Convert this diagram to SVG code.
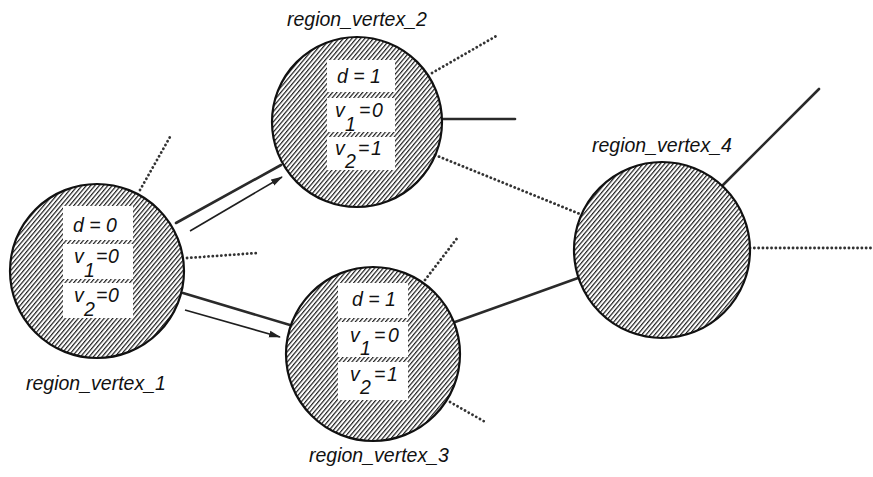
<svg xmlns="http://www.w3.org/2000/svg" width="873" height="477" viewBox="0 0 873 477">
  <defs>
    <pattern id="hatch" width="3.3" height="10" patternUnits="userSpaceOnUse" patternTransform="rotate(40)">
      <rect x="0" y="0" width="1.2" height="10" fill="#1e1e1e"/>
    </pattern>
    <marker id="arrow" markerWidth="12" markerHeight="8" refX="11" refY="4" orient="auto" markerUnits="userSpaceOnUse">
      <path d="M0,0.5 L12,4 L0,7.5 Z" fill="#222"/>
    </marker>
  </defs>
  <style>
    .region { fill: url(#hatch); stroke: #111; stroke-width: 2.2; }
    .cell { fill: #fff; }
    .solid { stroke: #2a2a2a; stroke-width: 2.6; fill: none; stroke-linecap: round; }
    .dotted { stroke: #333; stroke-width: 2.8; fill: none; stroke-dasharray: 0.1 4.2; stroke-linecap: round; }
    .flow { stroke: #1e1e1e; stroke-width: 1.6; fill: none; marker-end: url(#arrow); }
    .lbl { font-family: "Liberation Sans", Arial, sans-serif; font-style: italic; font-size: 19.5px; fill: #111; }
    .val { font-family: "Liberation Sans", Arial, sans-serif; font-style: italic; font-size: 19.5px; fill: #111; }
  </style>

  <!-- connectors -->
  <g id="connectors">
    <line class="solid" x1="176" y1="223" x2="281" y2="165"/>
    <line class="solid" x1="183" y1="293" x2="290" y2="325"/>
    <line class="solid" x1="443" y1="119" x2="515" y2="119"/>
    <line class="solid" x1="455" y1="322" x2="578" y2="278"/>
    <line class="solid" x1="723" y1="185" x2="819" y2="89"/>

    <line class="dotted" x1="140" y1="190" x2="170" y2="137"/>
    <line class="dotted" x1="187" y1="258" x2="257" y2="253"/>
    <line class="dotted" x1="432" y1="73" x2="498" y2="35"/>
    <line class="dotted" x1="435" y1="155" x2="580" y2="214"/>
    <line class="dotted" x1="425" y1="280" x2="458" y2="237"/>
    <line class="dotted" x1="450" y1="402" x2="487" y2="423"/>
    <line class="dotted" x1="750" y1="248" x2="872" y2="248"/>

    <line class="flow" x1="190" y1="231" x2="282" y2="177"/>
    <line class="flow" x1="185" y1="310" x2="280" y2="337"/>
  </g>

  <!-- region vertex 1 -->
  <g id="region_vertex_1">
    <circle class="region" cx="97" cy="271" r="87"/>
    <rect class="cell" x="63" y="206" width="70" height="34"/>
    <rect class="cell" x="63" y="244" width="70" height="35"/>
    <rect class="cell" x="63" y="283" width="70" height="35"/>
    <text class="val" x="73" y="232">d = 0</text>
    <text class="val" x="74" y="263">v<tspan x="84" y="277">1</tspan><tspan x="96" y="263">=</tspan><tspan x="108" y="263">0</tspan></text>
    <text class="val" x="74" y="302">v<tspan x="84" y="316">2</tspan><tspan x="96" y="302">=</tspan><tspan x="108" y="302">0</tspan></text>
    <text class="lbl" x="26" y="390">region_vertex_1</text>
  </g>

  <!-- region vertex 2 -->
  <g id="region_vertex_2">
    <circle class="region" cx="357" cy="122" r="85"/>
    <rect class="cell" x="327" y="60" width="68" height="32"/>
    <rect class="cell" x="327" y="98" width="68" height="34"/>
    <rect class="cell" x="327" y="137" width="68" height="33"/>
    <text class="val" x="337" y="83">d = 1</text>
    <text class="val" x="335" y="117">v<tspan x="345" y="131">1</tspan><tspan x="359" y="117">=</tspan><tspan x="372" y="117">0</tspan></text>
    <text class="val" x="335" y="155">v<tspan x="345" y="168">2</tspan><tspan x="358" y="155">=</tspan><tspan x="371" y="155">1</tspan></text>
    <text class="lbl" x="287" y="26">region_vertex_2</text>
  </g>

  <!-- region vertex 3 -->
  <g id="region_vertex_3">
    <circle class="region" cx="373" cy="354" r="87"/>
    <rect class="cell" x="338" y="283" width="70" height="35"/>
    <rect class="cell" x="338" y="322" width="70" height="35"/>
    <rect class="cell" x="338" y="362" width="70" height="38"/>
    <text class="val" x="352" y="306">d = 1</text>
    <text class="val" x="350" y="342">v<tspan x="360" y="355">1</tspan><tspan x="374" y="342">=</tspan><tspan x="388" y="342">0</tspan></text>
    <text class="val" x="350" y="381">v<tspan x="360" y="394">2</tspan><tspan x="374" y="381">=</tspan><tspan x="387" y="381">1</tspan></text>
    <text class="lbl" x="309" y="462">region_vertex_3</text>
  </g>

  <!-- region vertex 4 -->
  <g id="region_vertex_4">
    <circle class="region" cx="662" cy="250" r="88"/>
    <text class="lbl" x="592" y="152">region_vertex_4</text>
  </g>
</svg>
